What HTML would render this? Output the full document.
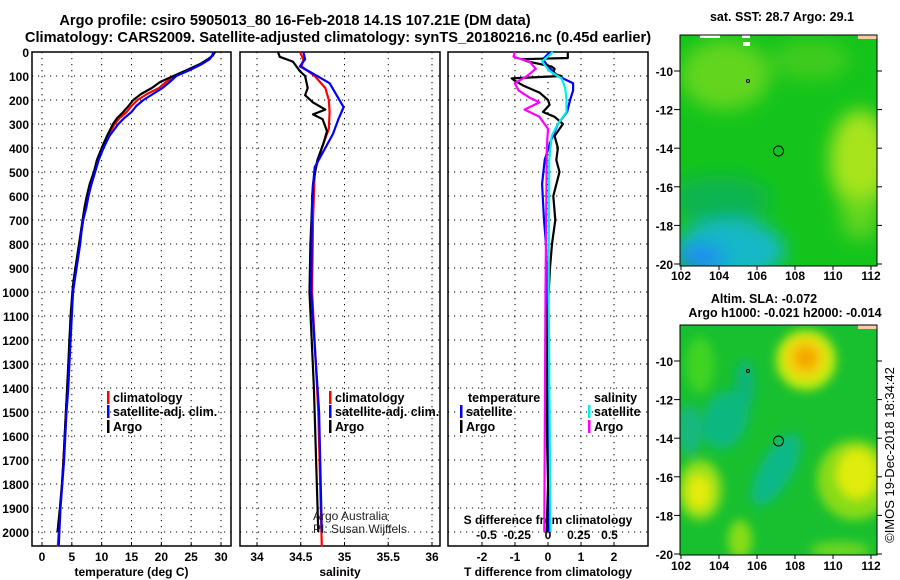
<!DOCTYPE html>
<html><head><meta charset="utf-8">
<style>
html,body{margin:0;padding:0;background:#fff;}
svg{display:block;font-family:"Liberation Sans",Arial,sans-serif;}
.t{font-weight:bold;font-size:14.6px;}
.tk{font-weight:bold;font-size:12px;}
.lg{font-weight:bold;font-size:12.5px;}
</style></head>
<body>
<svg id="fig" width="900" height="580" viewBox="0 0 900 580" xmlns="http://www.w3.org/2000/svg">
<defs>
<filter id="bl1" x="-50%" y="-50%" width="200%" height="200%"><feGaussianBlur stdDeviation="9"/></filter>
<filter id="bl2" x="-50%" y="-50%" width="200%" height="200%"><feGaussianBlur stdDeviation="5"/></filter>
<clipPath id="c1"><rect x="680" y="35" width="197" height="231"/></clipPath>
<clipPath id="c2"><rect x="680" y="325" width="197" height="230"/></clipPath>
</defs>
<text class="t" x="295" y="25" text-anchor="middle">Argo profile: csiro 5905013_80 16-Feb-2018 14.1S 107.21E (DM data)</text>
<text class="t" x="338" y="42" text-anchor="middle">Climatology: CARS2009. Satellite-adjusted climatology: synTS_20180216.nc (0.45d earlier)</text>

<!-- map 1 -->
<g>
<g clip-path="url(#c1)">
<rect x="680" y="35" width="197" height="231" fill="#14c41c"/>
<g filter="url(#bl1)">
<ellipse cx="725" cy="75" rx="45" ry="35" fill="#70d820" opacity="0.85"/>
<ellipse cx="810" cy="60" rx="40" ry="20" fill="#5cd020" opacity="0.6"/>
<ellipse cx="860" cy="160" rx="30" ry="50" fill="#a8e41c"/>
<ellipse cx="860" cy="215" rx="20" ry="25" fill="#70d820" opacity="0.8"/>
<ellipse cx="720" cy="200" rx="50" ry="25" fill="#10b450"/>
<ellipse cx="730" cy="250" rx="55" ry="30" fill="#18b8c8"/>
<ellipse cx="700" cy="258" rx="25" ry="14" fill="#1c8cf0"/>
</g>
<rect x="858" y="35" width="19" height="4" fill="#ffc8a8"/>
<rect x="700" y="35" width="20" height="3" fill="#fff"/>
<rect x="742" y="35" width="8" height="3" fill="#fff"/>
<rect x="743" y="42" width="7" height="4" fill="#fff"/>
</g>
<rect x="680" y="35" width="197" height="231" fill="none" stroke="#000"/>
<circle cx="778.5" cy="151" r="5" fill="none" stroke="#000"/>
<circle cx="748" cy="81" r="1.5" fill="none" stroke="#000"/>
</g>
<text class="lg" x="782" y="21" text-anchor="middle">sat. SST: 28.7 Argo: 29.1</text>

<!-- map 2 -->
<g>
<g clip-path="url(#c2)">
<rect x="680" y="325" width="197" height="230" fill="#18c030"/>
<g filter="url(#bl2)">
<ellipse cx="700" cy="365" rx="14" ry="28" fill="#40d420"/>
<ellipse cx="745" cy="385" rx="10" ry="25" fill="#10b478"/>
<ellipse cx="725" cy="420" rx="22" ry="30" fill="#10b880" transform="rotate(20 725 420)"/>
<ellipse cx="776" cy="470" rx="16" ry="40" fill="#10b888" transform="rotate(30 776 470)"/>
<ellipse cx="690" cy="430" rx="12" ry="25" fill="#14b880"/>
<ellipse cx="806" cy="360" rx="30" ry="30" fill="#c8ec10"/>
<ellipse cx="805" cy="358" rx="20" ry="20" fill="#f4d010"/>
<ellipse cx="806" cy="358" rx="11" ry="11" fill="#f4a400"/>
<ellipse cx="700" cy="490" rx="22" ry="30" fill="#98e018"/>
<ellipse cx="699" cy="492" rx="12" ry="17" fill="#e4ec10"/>
<ellipse cx="855" cy="480" rx="38" ry="40" fill="#88dc18"/>
<ellipse cx="857" cy="474" rx="20" ry="25" fill="#e0ec10"/>
<ellipse cx="740" cy="540" rx="12" ry="20" fill="#88dc18"/>
<ellipse cx="840" cy="550" rx="30" ry="8" fill="#70d820"/>
</g>
<rect x="858" y="325" width="19" height="4" fill="#ffc8a8"/>
</g>
<rect x="680" y="325" width="197" height="230" fill="none" stroke="#000"/>
<circle cx="778.5" cy="441" r="5" fill="none" stroke="#000"/>
<circle cx="748" cy="371" r="1.5" fill="none" stroke="#000"/>
</g>
<text class="lg" x="764" y="303" text-anchor="middle">Altim. SLA: -0.072</text>
<text class="lg" x="785" y="317" text-anchor="middle">Argo h1000: -0.021 h2000: -0.014</text>
<text x="0" y="0" font-size="13" transform="translate(894 455) rotate(-90)" text-anchor="middle">©IMOS 19-Dec-2018 18:34:42</text>
</svg>
<script>
// ---- data ----
const tempDepthArgo = [0,15,30,50,75,100,125,150,175,200,225,250,275,300,350,400,450,500,550,600,650,700,750,800,850,900,950,1000,1100,1200,1300,1400,1500,1600,1700,1800,1900,2000];
const tempArgo      = [29.0,28.6,27.8,26.5,24.3,22.0,19.8,18.4,16.6,15.3,14.5,13.6,12.6,11.9,10.9,10.0,9.2,8.7,8.0,7.5,7.1,6.8,6.5,6.2,5.9,5.6,5.3,5.1,4.8,4.6,4.4,4.2,4.0,3.8,3.6,3.35,3.0,2.6];
const tempDepthClim = [0,15,30,50,75,100,125,150,175,200,225,250,275,300,350,400,450,500,550,600,650,700,750,800,850,900,950,1000,1100,1200,1300,1400,1500,1600,1700,1800,1900,2060];
const tempClim      = [28.9,28.6,28.0,26.8,24.6,22.3,20.8,19.6,17.6,16.0,15.0,14.2,13.0,12.2,11.0,10.1,9.4,8.8,8.2,7.7,7.3,6.9,6.6,6.3,6.0,5.7,5.4,5.2,4.9,4.7,4.5,4.3,4.0,3.8,3.6,3.35,3.05,2.65];
const tempSat       = [28.7,28.5,28.1,26.8,24.8,22.5,21.4,20.2,18.6,17.0,15.8,15.0,13.8,12.8,11.3,10.3,9.5,8.9,8.3,7.8,7.4,6.9,6.6,6.4,6.1,5.8,5.5,5.2,5.0,4.8,4.6,4.4,4.1,3.9,3.7,3.4,3.1,2.8];

const salDepthArgo = [0,20,40,80,100,150,180,210,240,260,280,330,380,450,550,800,1000,1400,2000];
const salArgo      = [34.24,34.26,34.41,34.49,34.55,34.58,34.55,34.64,34.78,34.64,34.75,34.80,34.76,34.69,34.64,34.61,34.60,34.65,34.70];
const salDepthClim = [0,30,60,100,150,200,250,320,400,500,700,1000,1500,2060];
const salClim      = [34.49,34.53,34.51,34.66,34.78,34.82,34.83,34.82,34.74,34.66,34.64,34.63,34.70,34.74];
const salDepthSat  = [0,30,60,90,130,180,230,280,340,400,480,600,1000,1500,2000];
const salSat       = [34.53,34.55,34.49,34.64,34.83,34.91,34.99,34.93,34.87,34.78,34.66,34.63,34.62,34.71,34.74];

const dTDepthSat = [0,30,60,100,130,160,200,250,300,380,450,550,700,800,1000,2000];
const dTSat      = [0.06,-0.15,0,0.3,0.76,0.76,0.67,0.58,0.3,0.06,-0.1,-0.18,-0.12,-0.06,-0.03,0.03];
const dTDepthArgo = [0,25,30,40,60,70,90,100,110,120,140,170,200,220,250,270,300,350,400,450,500,600,700,800,900,1000,1100,1400,1800,2000];
const dTArgo      = [0.6,0.6,-0.8,-0.6,0.1,0.2,0.15,0.4,-1.1,-1.0,-0.75,-0.25,0,0.05,-0.15,0.2,0.45,0.2,0.3,0.25,0.35,0.16,0.22,0.12,0.06,0.02,-0.02,-0.06,0,-0.04];
const dSDepthSat = [0,40,80,110,150,200,250,300,350,450,1000,2000];
const dSSat      = [0.04,-0.05,0.015,0.11,0.14,0.15,0.15,0.08,0.03,0.01,0.005,0.02];
const dSDepthArgo = [0,20,40,70,100,130,160,190,210,240,270,320,400,1000,2000];
const dSArgo      = [-0.27,-0.28,-0.15,-0.1,-0.17,-0.27,-0.24,-0.15,-0.07,-0.19,-0.07,0,-0.01,-0.02,-0.03];

const depthTicks = [0,100,200,300,400,500,600,700,800,900,1000,1100,1200,1300,1400,1500,1600,1700,1800,1900,2000];
const tempTicks = [0,5,10,15,20,25,30];
const salTicks = [34,34.5,35,35.5,36];
const dTTicks = [-2,-1,0,1,2];
const dSTicks = [-0.5,-0.25,0,0.25,0.5];
const dSTickLabels = ["-0.5","-0.25","0","0.25","0.5"];
const latTicks = [-10,-12,-14,-16,-18,-20];
const lonTicks = [102,104,106,108,110,112];

// ---- scales ----
const TOP=52, BOT=546;
const yD = d => TOP + d*0.24;
const xT = t => 42 + t*5.967;
const xS = s => 257 + (s-34)*87.5;
const xdT = v => 548 + v*33;
const xdS = v => 548 + v*123;
const yLat1 = l => 71 + (-10 - l)*19.3;
const yLat2 = l => 361 + (-10 - l)*19.3;
const xLon = l => 681 + (l-102)*19;

const svg = document.getElementById('fig');
const NS = 'http://www.w3.org/2000/svg';
function mk(tag, attrs, parent){
  const e = document.createElementNS(NS, tag);
  for (const k in attrs) e.setAttribute(k, attrs[k]);
  (parent||svg).appendChild(e);
  return e;
}
function txt(s, attrs, parent){ const e = mk('text', attrs, parent); e.textContent = s; return e; }

const panels = [
  {name:'temperature', x0:32, x1:231, ticks:tempTicks, labels:tempTicks.map(String), sx:xT, title:'temperature (deg C)', grid:tempTicks},
  {name:'salinity', x0:240, x1:440, ticks:salTicks, labels:salTicks.map(String), sx:xS, title:'salinity', grid:salTicks},
  {name:'difference', x0:448, x1:648, ticks:dTTicks, labels:dTTicks.map(String), sx:xdT, title:'T difference from climatology', grid:dTTicks}
];
panels.forEach((p, i) => {
  const g = mk('g', {});
  
  
  p.grid.forEach(v => {
    const x = p.sx(v);
    if (x > p.x0+2 && x < p.x1-2) {
      const l = mk('line', {x1:x, x2:x, y1:TOP, y2:BOT, stroke:'#000', 'stroke-width':1, 'stroke-dasharray':'1.2 4.8'}, g);
      
      
    }
  });
  depthTicks.forEach(d => {
    if (d === 0) return;
    const l = mk('line', {x1:p.x0, x2:p.x1, y1:yD(d), y2:yD(d), stroke:'#000', 'stroke-width':1, 'stroke-dasharray':'1.2 4.8'}, g);
    
    
  });
  const r = mk('rect', {x:p.x0, y:TOP, width:p.x1-p.x0, height:BOT-TOP, fill:'none', stroke:'#000', 'stroke-width':1.5}, g);
  
  
  p.ticks.forEach((v, k) => {
    const x = p.sx(v);
    const tk = mk('line', {x1:x, x2:x, y1:BOT, y2:BOT-4, stroke:'#000'}, g);
    
    
    const t = txt(p.labels[k], {x:x, y:561, 'text-anchor':'middle', class:'tk'}, g);
    
    
  });
  const at = txt(p.title, {x:(p.x0+p.x1)/2, y:576, 'text-anchor':'middle', class:'tk'}, g);
  
  
});
depthTicks.forEach(d => {
  const t = txt(String(d), {x:29, y:yD(d)+5, 'text-anchor':'end', class:'tk'});
  
  
});
const sdt = txt('S difference from climatology', {x:548, y:524, 'text-anchor':'middle', class:'tk'});


dSTicks.forEach((v, k) => {
  const t = txt(dSTickLabels[k], {x:xdS(v), y:539, 'text-anchor':'middle', class:'tk'});
  
  
});

function line(depths, vals, sx, color, name, w){
  const pts = depths.map((d, i) => sx(vals[i]).toFixed(1) + ',' + yD(d).toFixed(1)).join(' ');
  const pl = mk('polyline', {points:pts, fill:'none', stroke:color, 'stroke-width':w||2.2, 'stroke-linejoin':'round'});
  
  
}
line(tempDepthClim, tempClim, xT, '#f00', 'temperature-climatology-line');
line(tempDepthArgo, tempArgo, xT, '#000', 'temperature-argo-line');
line(tempDepthClim, tempSat, xT, '#00f', 'temperature-satellite-line');
line(salDepthClim, salClim, xS, '#f00', 'salinity-climatology-line');
line(salDepthArgo, salArgo, xS, '#000', 'salinity-argo-line');
line(salDepthSat, salSat, xS, '#00f', 'salinity-satellite-line');
line(dTDepthSat, dTSat, xdT, '#00f', 't-diff-satellite-line');
line(dTDepthArgo, dTArgo, xdT, '#000', 't-diff-argo-line');
line(dSDepthArgo, dSArgo, xdS, '#f0f', 's-diff-argo-line');
line(dSDepthSat, dSSat, xdS, '#0ee', 's-diff-satellite-line');

function legend(x, y, color, label, name){
  const g = mk('g', {});
  
  
  mk('rect', {x:x, y:y-11, width:2.5, height:13, fill:color}, g);
  txt(label, {x:x+6, y:y, class:'lg'}, g);
}
legend(107, 402, '#f00', 'climatology', 'legend-temp-climatology');
legend(107, 416, '#00f', 'satellite-adj. clim.', 'legend-temp-satellite');
legend(107, 431, '#000', 'Argo', 'legend-temp-argo');
legend(329, 402, '#f00', 'climatology', 'legend-sal-climatology');
legend(329, 416, '#00f', 'satellite-adj. clim.', 'legend-sal-satellite');
legend(329, 431, '#000', 'Argo', 'legend-sal-argo');
const lt = txt('temperature', {x:468, y:402, class:'lg'});


const ls = txt('salinity', {x:594, y:402, class:'lg'});


legend(460, 416, '#00f', 'satellite', 'legend-tdiff-satellite');
legend(460, 431, '#000', 'Argo', 'legend-tdiff-argo');
legend(588, 416, '#0ee', 'satellite', 'legend-sdiff-satellite');
legend(588, 431, '#f0f', 'Argo', 'legend-sdiff-argo');

const c1 = txt('Argo Australia', {x:313, y:520, 'font-size':12, fill:'#222'});


const c2 = txt('PI: Susan Wijffels', {x:313, y:533, 'font-size':12, fill:'#222'});



[[yLat1, 35, 266, 280], [yLat2, 325, 555, 570]].forEach((m, mi) => {
  latTicks.forEach(l => {
    const y = m[0](l);
    const tk = mk('line', {x1:674, x2:680, y1:y, y2:y, stroke:'#000'});
    
    
    const tk2 = mk('line', {x1:877, x2:882, y1:y, y2:y, stroke:'#000'});
    
    
    const t = txt(String(l), {x:673, y:y+5, 'text-anchor':'end', class:'tk'});
    
    
  });
  lonTicks.forEach(l => {
    const x = xLon(l);
    const tk = mk('line', {x1:x, x2:x, y1:m[2], y2:m[2]+4, stroke:'#000'});
    
    
    const t = txt(String(l), {x:x, y:m[3], 'text-anchor':'middle', class:'tk'});
    
    
  });
});
</script>
</body></html>
